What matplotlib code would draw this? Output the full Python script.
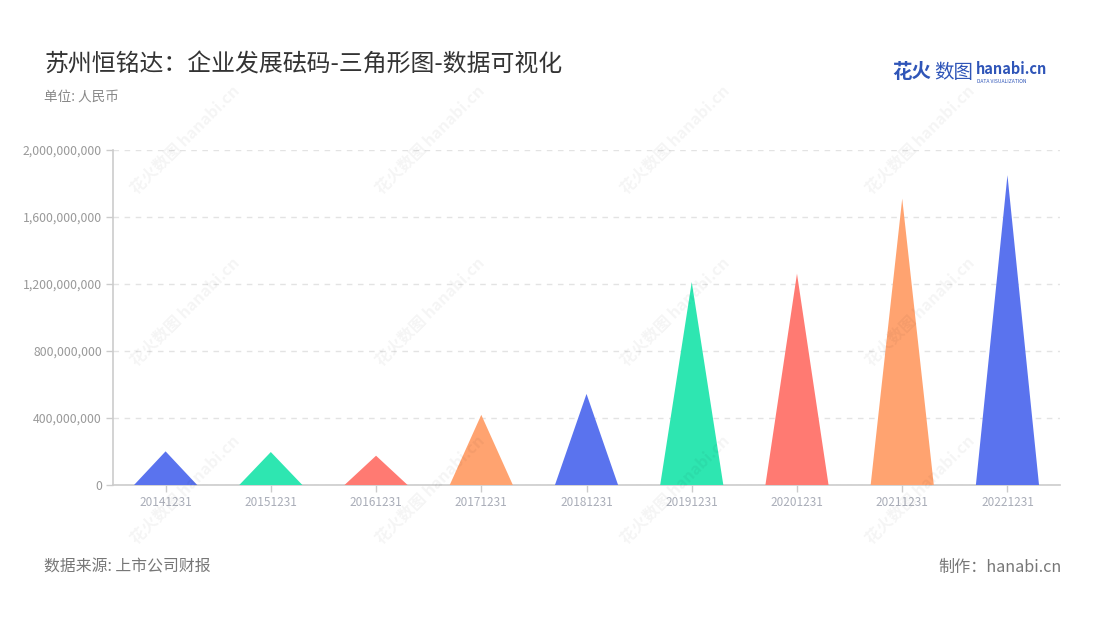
import matplotlib
matplotlib.use('Agg')
import matplotlib.pyplot as plt
from matplotlib.patches import Polygon
from matplotlib.ticker import FuncFormatter
import numpy as np

plt.rcParams['font.family'] = ['Noto Sans CJK SC', 'DejaVu Sans']

# data
years = ['20141231', '20151231', '20161231', '20171231', '20181231',
         '20191231', '20201231', '20211231', '20221231']
values = [2.01e8, 1.97e8, 1.75e8, 4.19e8, 5.44e8,
          1.212e9, 1.262e9, 1.71e9, 1.85e9]
palette = ['#5a73ee', '#2ee6b1', '#ff7a72', '#ffa370']
y_ticks = [0, 4e8, 8e8, 1.2e9, 1.6e9, 2e9]

fig = plt.figure(figsize=(11, 6.2), dpi=100)
ax = fig.add_axes([0.1027, 0.2177, 0.861, 0.5403])

# triangles, one per category band
width = 0.6
for i, v in enumerate(values):
    tri = Polygon([(i - width / 2, 0), (i, v), (i + width / 2, 0)],
                  closed=True, facecolor=palette[i % len(palette)],
                  edgecolor='none', zorder=3)
    ax.add_patch(tri)

ax.set_xlim(-0.5, len(years) - 0.5)
ax.set_ylim(0, 2e9)
ax.set_xticks(range(len(years)))
ax.set_xticklabels(years)
ax.set_yticks(y_ticks)
ax.yaxis.set_major_formatter(FuncFormatter(lambda v, p: '{:,.0f}'.format(v)))

ax.grid(axis='y', color='#e3e3e3', linestyle=(0, (4, 4)), linewidth=1)
ax.set_axisbelow(True)
for s in ['top', 'right']:
    ax.spines[s].set_visible(False)
for s in ['left', 'bottom']:
    ax.spines[s].set_color('#cccccc')
    ax.spines[s].set_linewidth(1.2)
ax.tick_params(axis='x', colors='#cccccc', length=5, width=1, labelcolor='#a9adb8',
               labelsize=8.5, pad=3)
ax.tick_params(axis='y', colors='#cccccc', length=5, width=1, labelcolor='#999999',
               labelsize=8.8, pad=3)

# titles
fig.text(0.04, 0.895, '苏州恒铭达：企业发展砝码-三角形图-数据可视化', fontsize=17.2,
         color='#333333', va='center')
fig.text(0.04, 0.845, '单位: 人民币', fontsize=9.8, color='#888888', va='center')

# logo
fig.text(0.811, 0.883, '花火', fontsize=14, color='#2f55b8', fontweight='bold', va='center')
fig.text(0.849, 0.883, '数图', fontsize=14, color='#2f55b8', va='center')
fig.text(0.887, 0.888, 'hanabi.cn', fontsize=10.5, color='#2f55b8', fontweight='bold',
         va='center')
fig.text(0.888, 0.869, 'DATA VISUALIZATION', fontsize=3.6, color='#2f55b8', va='center')

# footer
fig.text(0.04, 0.085, '数据来源: 上市公司财报', fontsize=11.4, color='#777777', va='center')
fig.text(0.965, 0.085, '制作：hanabi.cn', fontsize=11.6, color='#777777', va='center',
         ha='right')

# watermarks
for wx in [185, 430, 675, 920]:
    for wy in [140, 312, 490]:
        fig.text(wx / 1100, 1 - wy / 620, '花火数图 hanabi.cn', fontsize=11.5,
                 color='#000000', alpha=0.045, rotation=45, ha='center', va='center',
                 fontweight='bold')

fig.savefig('out.png', dpi=100)
